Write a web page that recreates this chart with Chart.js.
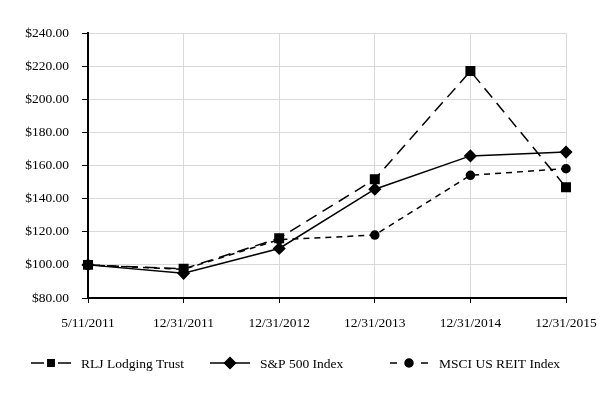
<!DOCTYPE html>
<html>
<head>
<meta charset="utf-8">
<script src="https://cdn.jsdelivr.net/npm/chart.js@4/dist/chart.umd.min.js"></script>
<style>
  html, body { margin: 0; padding: 0; background: #fff; }
  #wrap { width: 600px; height: 400px; position: relative; }
</style>
</head>
<body>
<div id="wrap"><canvas id="myChart"></canvas></div>
<script>
'use strict';

let labels = ['5/11/2011', '12/31/2011', '12/31/2012', '12/31/2013', '12/31/2014', '12/31/2015'];
let rljValues = [100, 97.6, 116.1, 151.7, 217.0, 146.8];
let spValues = [100, 94.9, 109.9, 145.7, 165.8, 168.1];
let reitValues = [100, 97.3, 115.2, 118.0, 154.1, 158.1];
let seriesNames = ['RLJ Lodging Trust', 'S&P 500 Index', 'MSCI US REIT Index'];
let yTicks = [80, 100, 120, 140, 160, 180, 200, 220, 240];

let fontFamily = '"Liberation Serif", "Times New Roman", serif';

// legend drawn by hand at the bottom: segment, marker, segment
let legendItems = [
    { x: 31, seg: 13, gap: 7, style: 'rect', r: 4.5, textX: 81 },
    { x: 210, seg: 20, gap: 0, style: 'rectRot', r: 5.5, textX: 260 },
    { x: 390, seg: 7, gap: 12, style: 'circle', r: 4, textX: 439 }
];

let bottomLegend = {
    id: 'bottomLegend',
    afterDraw(chart) {
        let ctx = chart.ctx;
        let y = 363;
        ctx.save();
        for (let i = 0; i < legendItems.length; i++) {
            let it = legendItems[i];
            let mid = it.x + it.seg + it.gap;
            let end = mid + it.gap + it.seg;
            ctx.strokeStyle = '#000';
            ctx.lineWidth = 1.5;
            ctx.beginPath();
            ctx.moveTo(it.x, y);
            ctx.lineTo(it.x + it.seg, y);
            ctx.moveTo(mid + it.gap, y);
            ctx.lineTo(end, y);
            ctx.stroke();
            ctx.fillStyle = '#000';
            Chart.helpers.drawPoint(ctx, { pointStyle: it.style, radius: it.r, borderWidth: 1 }, mid, y);
            ctx.font = '13.5px ' + fontFamily;
            ctx.textBaseline = 'middle';
            ctx.fillText(seriesNames[i], it.textX, y + 1);
        }
        ctx.restore();
    }
};

let ctx = document.getElementById('myChart').getContext('2d');
let myChart = new Chart(ctx, {
    type: 'line',
    data: {
        labels: labels,
        datasets: [{
            label: seriesNames[0],
            data: rljValues,
            borderColor: '#000',
            backgroundColor: '#000',
            borderWidth: 1.5,
            borderDash: [12, 7],
            pointStyle: 'rect',
            pointRadius: 6,
            tension: 0
        }, {
            label: seriesNames[1],
            data: spValues,
            borderColor: '#000',
            backgroundColor: '#000',
            borderWidth: 1.5,
            pointStyle: 'rectRot',
            pointRadius: 5.5,
            tension: 0
        }, {
            label: seriesNames[2],
            data: reitValues,
            borderColor: '#000',
            backgroundColor: '#000',
            borderWidth: 1.5,
            borderDash: [6, 5],
            pointStyle: 'circle',
            pointRadius: 4,
            tension: 0
        }]
    },
    options: {
        responsive: true,
        maintainAspectRatio: false,
        animation: false,
        layout: { padding: { top: 33, right: 34, left: 0, bottom: 0 } },
        plugins: {
            legend: { display: false },
            tooltip: { enabled: false }
        },
        scales: {
            x: {
                offset: false,
                grid: { color: '#d9d9d9', tickColor: '#000', tickLength: 5, lineWidth: 1 },
                border: { color: '#000', width: 2 },
                ticks: {
                    color: '#000',
                    font: { family: fontFamily, size: 13.5 },
                    padding: 12,
                    maxRotation: 0,
                    autoSkip: false
                },
                afterFit(scale) {
                    scale.height = 102;
                    scale.paddingRight = 0;
                    scale.paddingLeft = 0;
                }
            },
            y: {
                min: 80,
                max: 240,
                grid: { color: '#d9d9d9', tickColor: '#000', tickLength: 6, lineWidth: 1 },
                border: { color: '#000', width: 2 },
                afterBuildTicks(scale) {
                    scale.ticks = yTicks.map(v => ({ value: v }));
                },
                ticks: {
                    color: '#000',
                    font: { family: fontFamily, size: 13.5 },
                    padding: 13,
                    callback: v => '$' + Number(v).toFixed(2)
                },
                afterFit(scale) {
                    scale.width = 88;
                    scale.paddingTop = 0;
                    scale.paddingBottom = 0;
                }
            }
        }
    },
    plugins: [bottomLegend]
});
</script>
</body>
</html>
